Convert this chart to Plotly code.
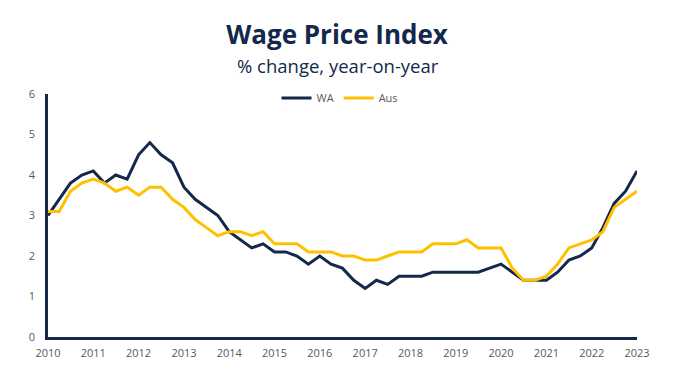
import pandas as pd
import plotly.graph_objects as go

quarters = pd.date_range("2010-01-01", periods=53, freq="QS")

wa = [3.0, 3.4, 3.8, 4.0, 4.1, 3.8, 4.0, 3.9, 4.5, 4.8, 4.5, 4.3, 3.7, 3.4, 3.2, 3.0,
      2.6, 2.4, 2.2, 2.3, 2.1, 2.1, 2.0, 1.8, 2.0, 1.8, 1.7, 1.4, 1.2, 1.4, 1.3, 1.5,
      1.5, 1.5, 1.6, 1.6, 1.6, 1.6, 1.6, 1.7, 1.8, 1.6, 1.4, 1.4, 1.4, 1.6, 1.9, 2.0,
      2.2, 2.7, 3.3, 3.6, 4.1]
aus = [3.1, 3.1, 3.6, 3.8, 3.9, 3.8, 3.6, 3.7, 3.5, 3.7, 3.7, 3.4, 3.2, 2.9, 2.7, 2.5,
       2.6, 2.6, 2.5, 2.6, 2.3, 2.3, 2.3, 2.1, 2.1, 2.1, 2.0, 2.0, 1.9, 1.9, 2.0, 2.1,
       2.1, 2.1, 2.3, 2.3, 2.3, 2.4, 2.2, 2.2, 2.2, 1.7, 1.4, 1.4, 1.5, 1.8, 2.2, 2.3,
       2.4, 2.6, 3.2, 3.4, 3.6]

title = "Wage Price Index"
subtitle = "% change, year-on-year"

NAVY = "#13284B"
GOLD = "#FFC000"
GRAY = "#595959"

# page body has an 8px default margin, so the figure is drawn 8px in from the corner
OFF = 8
W, H = 689 - OFF, 391 - OFF
L, T, B = 48 - OFF, 94 - OFF, 54
PH = H - T - B

fig = go.Figure()
fig.add_trace(go.Scatter(x=quarters, y=wa, name="WA", mode="lines",
                         line=dict(color=NAVY, width=3), cliponaxis=False))
fig.add_trace(go.Scatter(x=quarters, y=aus, name="Aus", mode="lines",
                         line=dict(color=GOLD, width=3), cliponaxis=False))

fig.update_layout(
    width=W, height=H,
    margin=dict(l=L, r=52, t=T, b=B),
    paper_bgcolor="white", plot_bgcolor="white",
    font=dict(family="Open Sans", color=GRAY, size=11),
    title=dict(text="<b>" + title + "</b>", x=(337 - OFF) / W, xanchor="center",
               y=1 - (35 - OFF) / H, yanchor="middle", yref="container",
               font=dict(family="Open Sans", size=26, color=NAVY)),
    annotations=[dict(text=subtitle, xref="paper", yref="paper",
                      x=(338 - 48) / 589, y=(337 - 65) / PH, xanchor="center", yanchor="middle",
                      showarrow=False, font=dict(family="Open Sans", size=18.5, color=NAVY))],
    legend=dict(orientation="h", x=(340 - 48) / 589, xanchor="center", y=(337 - 98) / PH,
                yanchor="middle", bgcolor="rgba(0,0,0,0)",
                font=dict(size=11, color=GRAY), itemwidth=30, tracegroupgap=0),
    showlegend=True,
)
fig.update_xaxes(range=["2010-01-01", "2023-01-01"], dtick="M12", tickformat="%Y",
                 showgrid=False, showline=True, linecolor=NAVY, linewidth=2.5,
                 ticks="outside", ticklen=4, tickcolor="rgba(0,0,0,0)",
                 zeroline=False, tickfont=dict(size=11, color=GRAY))
fig.update_yaxes(range=[0, 6], dtick=1, showgrid=False, showline=True, linecolor=NAVY,
                 linewidth=2.5, ticks="outside", ticklen=8, tickcolor="rgba(0,0,0,0)",
                 zeroline=False, tickfont=dict(size=11, color=GRAY))

fig.write_html("out.html")
